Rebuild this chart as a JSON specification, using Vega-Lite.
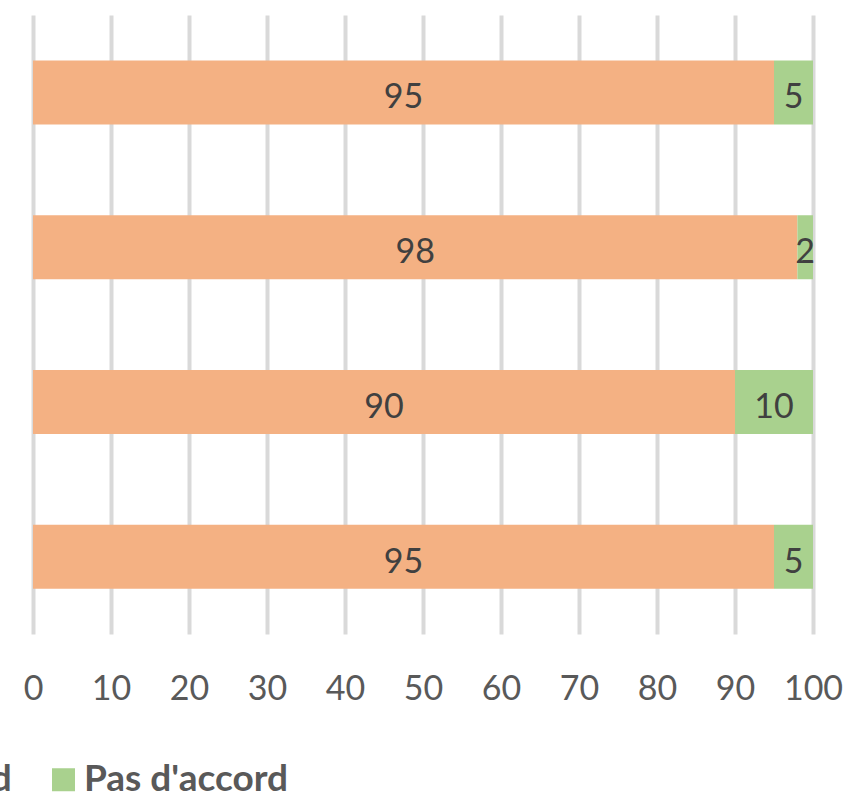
{
  "$schema": "https://vega.github.io/schema/vega-lite/v6.json",
  "autosize": {"type": "none"},
  "padding": {"left": 33, "top": 15, "right": 38, "bottom": 158},
  "width": 780,
  "height": 619,
  "background": "white",
  "config": {"view": {"stroke": null}, "font": "Lato"},
  "data": {
    "values": [
      {"q": "Q1", "r": "D'accord", "v": 95, "o": 1},
      {"q": "Q1", "r": "Pas d'accord", "v": 5, "o": 2},
      {"q": "Q2", "r": "D'accord", "v": 98, "o": 1},
      {"q": "Q2", "r": "Pas d'accord", "v": 2, "o": 2},
      {"q": "Q3", "r": "D'accord", "v": 90, "o": 1},
      {"q": "Q3", "r": "Pas d'accord", "v": 10, "o": 2},
      {"q": "Q4", "r": "D'accord", "v": 95, "o": 1},
      {"q": "Q4", "r": "Pas d'accord", "v": 5, "o": 2}
    ]
  },
  "encoding": {
    "y": {"field": "q", "type": "nominal", "sort": ["Q1", "Q2", "Q3", "Q4"], "axis": null}
  },
  "layer": [
    {
      "mark": {"type": "bar", "height": 64},
      "encoding": {
        "x": {
          "field": "v", "type": "quantitative", "stack": "zero",
          "scale": {"domain": [0, 100], "nice": false},
          "axis": {
            "title": null, "values": [0, 10, 20, 30, 40, 50, 60, 70, 80, 90, 100],
            "domain": false, "ticks": false, "grid": true, "gridColor": "#d9d9d9", "gridWidth": 4,
            "labelFontSize": 34, "labelColor": "#595959", "labelPadding": 38,
            "labelFlush": false, "labelOverlap": false, "labelFont": "Lato"
          }
        },
        "color": {
          "field": "r", "type": "nominal",
          "scale": {"domain": ["D'accord", "Pas d'accord"], "range": ["#F4B183", "#A9D18E"]},
          "legend": {
            "title": null, "orient": "none", "direction": "horizontal",
            "legendX": -205, "legendY": 746, "padding": 0,
            "symbolType": "square", "symbolSize": 529, "symbolStrokeWidth": 0,
            "labelFontSize": 37, "labelFontWeight": "bold", "labelColor": "#595959",
            "labelFont": "Lato", "labelOffset": 2, "columnPadding": 33, "labelLimit": 400
          }
        },
        "order": {"field": "o"}
      }
    },
    {
      "mark": {"type": "text", "fontSize": 34, "color": "#404040", "font": "Lato", "baseline": "middle", "dy": 6},
      "encoding": {
        "x": {"field": "v", "type": "quantitative", "stack": "zero", "bandPosition": 0.5},
        "text": {"field": "v", "type": "quantitative"},
        "detail": {"field": "r"},
        "order": {"field": "o"}
      }
    }
  ]
}
